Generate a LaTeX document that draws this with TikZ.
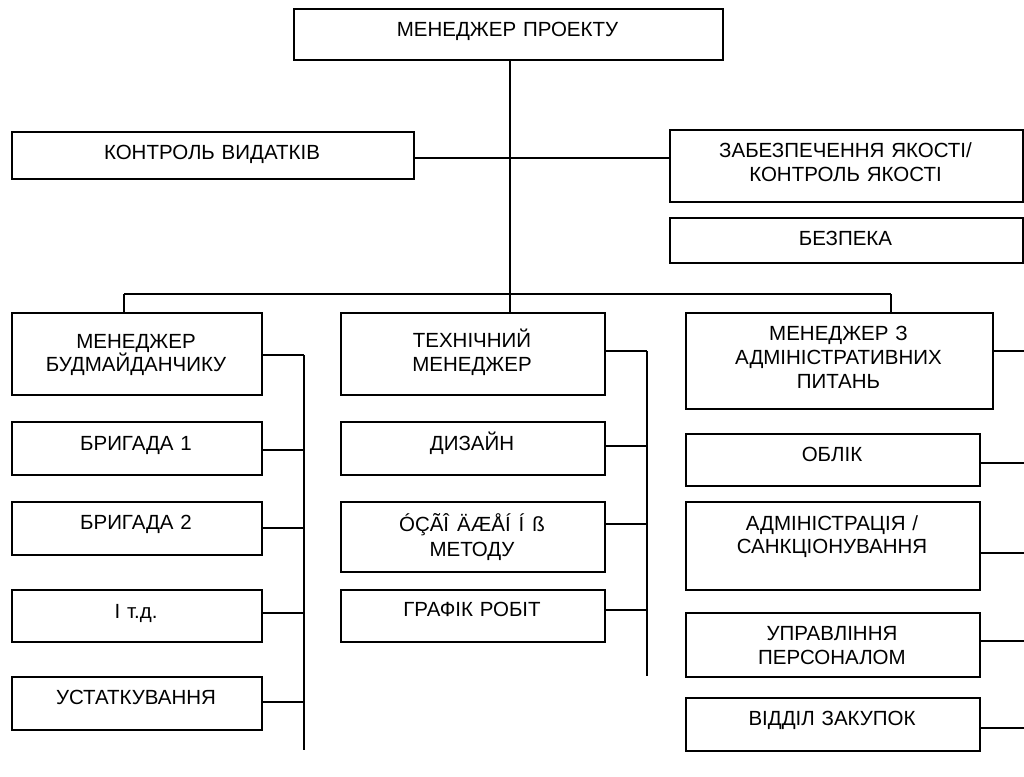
\documentclass[tikz,border=0pt]{standalone}
\usepackage{fontspec}
\setmainfont{Liberation Sans}
\begin{document}
\begin{tikzpicture}[x=1pt,y=-1pt,
  box/.style={draw, line width=1.8pt, inner sep=0pt, anchor=north west},
  lbl/.style={inner sep=0pt, anchor=base, align=center,
    font=\fontsize{20.5}{23.3}\selectfont},
  wire/.style={line width=1.8pt}]
\useasboundingbox (0,0) rectangle (1024,776);

% ---- top level ----
\node[box, minimum width=429pt, minimum height=51pt]   (pm)   at (293,8) {};
\node[lbl, text width=420pt] (pmt) at (507.5,36.7) {МЕНЕДЖЕР ПРОЕКТУ};

\node[box, minimum width=402pt, minimum height=47pt]   (ctrl) at (11,131) {};
\node[lbl, text width=390pt] (ctrlt) at (212,159.3) {КОНТРОЛЬ ВИДАТКІВ};

\node[box, minimum width=353pt, minimum height=72pt]   (qa)   at (669,129) {};
\node[lbl, text width=345pt] (qat) at (845.5,157.7) {ЗАБЕЗПЕЧЕННЯ ЯКОСТІ/\\КОНТРОЛЬ ЯКОСТІ};

\node[box, minimum width=353pt, minimum height=45pt]   (safe) at (669,217) {};
\node[lbl, text width=345pt] (safet) at (845.5,245.7) {БЕЗПЕКА};

% ---- managers ----
\node[box, minimum width=250pt, minimum height=82pt]   (site) at (11,312) {};
\node[lbl, text width=245pt] (sitet) at (136,348.3) {МЕНЕДЖЕР\\БУДМАЙДАНЧИКУ};

\node[box, minimum width=264pt, minimum height=82pt]   (tech) at (340,312) {};
\node[lbl, text width=255pt] (techt) at (472,347.7) {ТЕХНІЧНИЙ\\МЕНЕДЖЕР};

\node[box, minimum width=307pt, minimum height=96pt]   (adm)  at (685,312) {};
\node[lbl, text width=300pt, font=\fontsize{20.5}{24.2}\selectfont] (admt) at (838.5,340) {МЕНЕДЖЕР З\\АДМІНІСТРАТИВНИХ\\ПИТАНЬ};

% ---- site column ----
\node[box, minimum width=250pt, minimum height=53pt] (br1)   at (11,421) {};
\node[lbl, text width=245pt] (br1t) at (136,450) {БРИГАДА 1};
\node[box, minimum width=250pt, minimum height=53pt] (br2)   at (11,501) {};
\node[lbl, text width=245pt] (br2t) at (136,529.3) {БРИГАДА 2};
\node[box, minimum width=250pt, minimum height=52pt] (etc)   at (11,589) {};
\node[lbl, text width=245pt] (etct) at (136,618.3) {І т.д.};
\node[box, minimum width=250pt, minimum height=53pt] (equip) at (11,676) {};
\node[lbl, text width=245pt] (equipt) at (136,704) {УСТАТКУВАННЯ};

% ---- technical column ----
\node[box, minimum width=264pt, minimum height=53pt] (design) at (340,421) {};
\node[lbl, text width=255pt] (designt) at (472,450) {ДИЗАЙН};
\node[box, minimum width=264pt, minimum height=70pt] (method) at (340,501) {};
\node[lbl, text width=255pt, font=\fontsize{20.5}{25.5}\selectfont] (methodt) at (472,531) {ÓÇÃÎ\hspace{8pt}ÄÆÅÍ\hspace{8pt}Í\hspace{8pt}ß\\МЕТОДУ};
\node[box, minimum width=264pt, minimum height=52pt] (sched)  at (340,589) {};
\node[lbl, text width=255pt] (schedt) at (472,616.7) {ГРАФІК РОБІТ};

% ---- administrative column ----
\node[box, minimum width=294pt, minimum height=52pt] (acct)  at (685,433) {};
\node[lbl, text width=285pt] (acctt) at (832,461) {ОБЛІК};
\node[box, minimum width=294pt, minimum height=88pt] (admin) at (685,501) {};
\node[lbl, text width=285pt] (admint) at (832,530) {АДМІНІСТРАЦІЯ /\\САНКЦІОНУВАННЯ};
\node[box, minimum width=294pt, minimum height=64pt] (hr)    at (685,612) {};
\node[lbl, text width=285pt, font=\fontsize{20.5}{24.3}\selectfont] (hrt) at (832,640) {УПРАВЛІННЯ\\ПЕРСОНАЛОМ};
\node[box, minimum width=294pt, minimum height=53pt] (proc)  at (685,697) {};
\node[lbl, text width=285pt] (proct) at (832,725.7) {ВІДДІЛ ЗАКУПОК};

% ---- junctions and spines ----
\coordinate (jc) at (510,294);
\coordinate (dL) at (124,294);
\coordinate (dR) at (891,294);
\coordinate (sL) at (304,0);
\coordinate (sM) at (647,0);
\coordinate (sR) at (1024,0);

% main trunk and staff link
\draw[wire] (pm.south -| jc) -- (jc);
\draw[wire] (ctrl.east |- 0,158) -- (qa.west |- 0,158);

% branch to the three managers
\draw[wire] (dL) -- (dR);
\draw[wire] (dL) -- (dL |- site.north);
\draw[wire] (jc) -- (jc |- tech.north);
\draw[wire] (dR) -- (dR |- adm.north);

% site manager spine
\draw[wire] (sL |- 0,355) -- (sL |- 0,750);
\draw[wire] (site.east |- 0,355)  -- (sL |- 0,355);
\draw[wire] (br1.east |- 0,450)   -- (sL |- 0,450);
\draw[wire] (br2.east |- 0,528)   -- (sL |- 0,528);
\draw[wire] (etc.east |- 0,613)   -- (sL |- 0,613);
\draw[wire] (equip.east |- 0,702) -- (sL |- 0,702);

% technical manager spine
\draw[wire] (sM |- 0,351) -- (sM |- 0,676);
\draw[wire] (tech.east |- 0,351)   -- (sM |- 0,351);
\draw[wire] (design.east |- 0,446) -- (sM |- 0,446);
\draw[wire] (method.east |- 0,524) -- (sM |- 0,524);
\draw[wire] (sched.east |- 0,610)  -- (sM |- 0,610);

% administrative manager links
\draw[wire] (adm.east |- 0,351)   -- (sR |- 0,351);
\draw[wire] (acct.east |- 0,463)  -- (sR |- 0,463);
\draw[wire] (admin.east |- 0,553) -- (sR |- 0,553);
\draw[wire] (hr.east |- 0,641)    -- (sR |- 0,641);
\draw[wire] (proc.east |- 0,728)  -- (sR |- 0,728);
\end{tikzpicture}
\end{document}
